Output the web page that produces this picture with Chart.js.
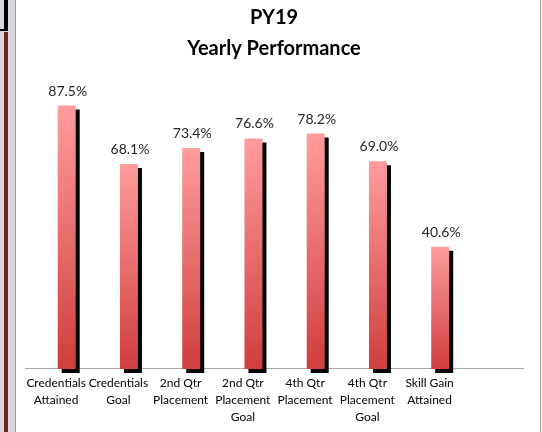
<!DOCTYPE html>
<html>
<head>
<meta charset="utf-8">
<script src="https://cdn.jsdelivr.net/npm/chart.js@4"></script>
<style>
  html, body { margin: 0; padding: 0; }
  body { width: 542px; height: 432px; position: relative; background: #fff; overflow: hidden; }
  #frame { position: absolute; left: 0; top: 0; width: 15px; height: 432px; background: #d9d9dd; }
  #stripeTop { position: absolute; left: 4px; top: 0; width: 4px; height: 30px; background: #000; }
  #stripeBar { position: absolute; left: 0; top: 29px; width: 8px; height: 2px; background: #000; }
  #stripe { position: absolute; left: 4px; top: 32px; width: 4px; height: 400px; background: #6b2727; }
  #box { position: absolute; left: 15px; top: -2px; width: 524px; height: 440px; border-left: 1px solid #9a9a9a; border-right: 1px solid #9a9a9a; background: #fff; }
  #wrap { position: absolute; left: 16px; top: 0; width: 524px; height: 432px; }
  canvas { display: block; }
</style>
</head>
<body>
<div id="frame"></div>
<div id="stripeTop"></div>
<div id="stripeBar"></div>
<div id="stripe"></div>
<div id="box"></div>
<div id="wrap"><canvas id="myChart" width="524" height="432"></canvas></div>
<script>
// Categories (last slot is empty in the original chart)
const categories = [
  ['Credentials', 'Attained'],
  ['Credentials', 'Goal'],
  ['2nd Qtr', 'Placement'],
  ['2nd Qtr', 'Placement', 'Goal'],
  ['4th Qtr', 'Placement'],
  ['4th Qtr', 'Placement', 'Goal'],
  ['Skill Gain', 'Attained'],
  ''
];

// Yearly performance in percent
const performance = [87.5, 68.1, 73.4, 76.6, 78.2, 69.0, 40.6, null];

// Empty companion series (keeps the bars shifted right like the original)
const blank = [null, null, null, null, null, null, null, null];

// Pink-to-red gradient for each bar
function barGradient(context) {
  const chart = context.chart;
  const area = chart.chartArea;
  const value = context.raw;
  if (!area || value == null) return '#e06060';
  const y = chart.scales.y;
  const top = y.getPixelForValue(value);
  const bottom = y.getPixelForValue(0);
  const g = chart.ctx.createLinearGradient(0, top, 0, bottom);
  g.addColorStop(0, '#ff9c9c');
  g.addColorStop(1, '#d03e3e');
  return g;
}

// Hard black shadow behind bars
const barShadow = {
  id: 'barShadow',
  beforeDatasetsDraw(chart) {
    const ctx = chart.ctx;
    ctx.save();
    ctx.shadowColor = '#000';
    ctx.shadowBlur = 0;
    ctx.shadowOffsetX = 4;
    ctx.shadowOffsetY = 4;
  },
  afterDatasetsDraw(chart) {
    chart.ctx.restore();
  }
};

// Value labels above bars
const valueLabels = {
  id: 'valueLabels',
  afterDraw(chart) {
    const ctx = chart.ctx;
    const meta = chart.getDatasetMeta(1);
    ctx.save();
    ctx.font = '14px Lato';
    ctx.fillStyle = '#262626';
    ctx.textAlign = 'center';
    ctx.textBaseline = 'alphabetic';
    meta.data.forEach((bar, i) => {
      const v = performance[i];
      if (v == null) return;
      ctx.fillText(v.toFixed(1) + '%', bar.x + 1, bar.y - 10);
    });
    ctx.restore();
  }
};

const ctx = document.getElementById('myChart');

new Chart(ctx, {
  type: 'bar',
  data: {
    labels: categories,
    datasets: [
      { label: 'blank', data: blank },
      {
        label: 'PY19',
        data: performance,
        backgroundColor: barGradient,
        borderWidth: 0,
        clip: false
      }
    ]
  },
  options: {
    responsive: false,
    animation: false,
    devicePixelRatio: 1,
    categoryPercentage: 0.68,
    barPercentage: 0.85,
    layout: { padding: { left: 9, right: 17, top: 0, bottom: 0 } },
    plugins: {
      legend: { display: false },
      tooltip: { enabled: false },
      title: {
        display: true,
        text: ['PY19', 'Yearly Performance'],
        color: '#000',
        font: { family: 'Lato', size: 20, weight: 'bold', lineHeight: 1.55 },
        padding: { top: 2, bottom: 4 }
      }
    },
    scales: {
      x: {
        grid: { display: false, drawTicks: false },
        border: { display: true, color: '#a6a6a6', width: 1 },
        ticks: {
          color: '#000',
          font: { family: 'Lato', size: 12, lineHeight: 1.42 },
          padding: 6,
          maxRotation: 0,
          autoSkip: false
        }
      },
      y: {
        display: false,
        min: 0,
        max: 100
      }
    }
  },
  plugins: [barShadow, valueLabels]
});
</script>
</body>
</html>
